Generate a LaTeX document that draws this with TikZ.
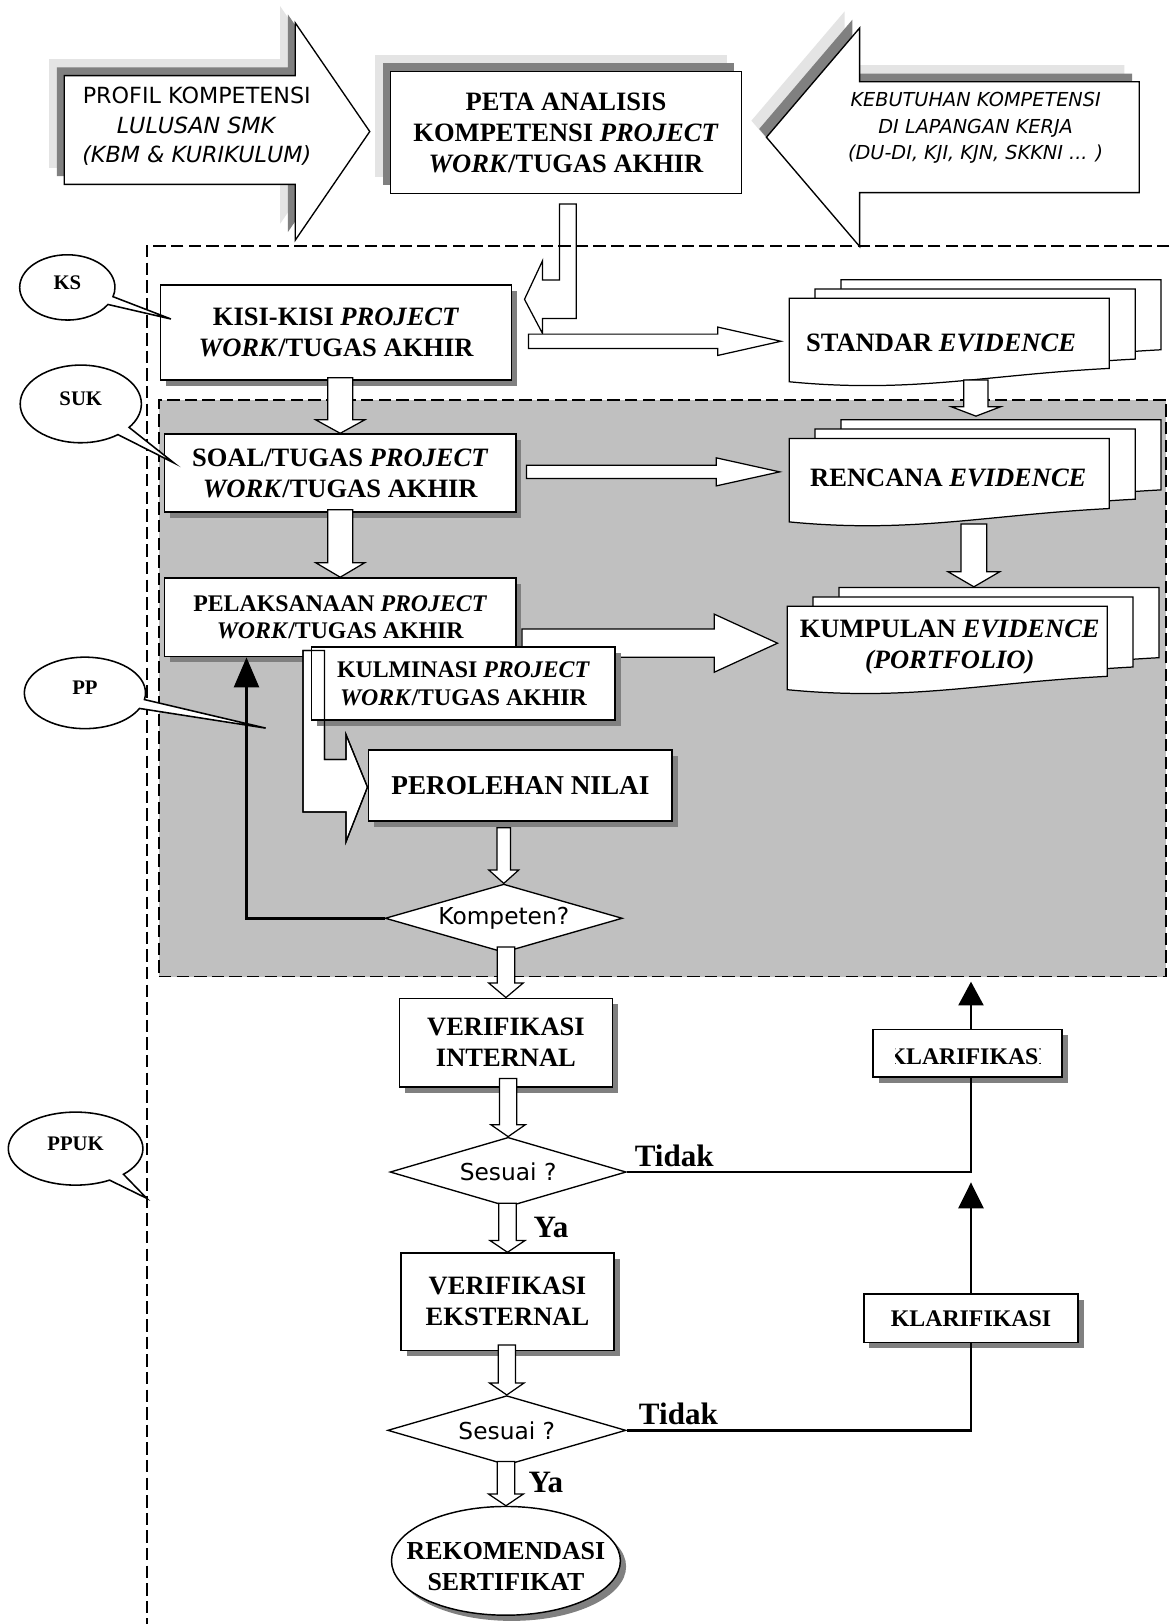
\documentclass[tikz,border=0pt]{standalone}
\usepackage{fontspec}
\setmainfont{Liberation Serif}
\newfontfamily\sansfnt{DejaVu Sans}
\usetikzlibrary{shapes.geometric,shapes.callouts,arrows.meta,shadows,calc}

\definecolor{zonegray}{RGB}{192,192,192}
\definecolor{shdark}{RGB}{128,128,128}
\definecolor{shlight}{RGB}{228,228,228}

\tikzset{
  boxshadow/.style={general shadow={fill=shdark, shadow xshift=5.5pt, shadow yshift=-5.5pt}},
  topshadow/.style={general shadow={fill=shlight, shadow xshift=-14.5pt, shadow yshift=16pt},
                    general shadow={fill=shdark, shadow xshift=-7pt, shadow yshift=8pt}},
  plainbox/.style={draw, line width=1.4pt, fill=white, inner sep=0pt, align=center},
  box/.style={plainbox, boxshadow},
  decision/.style={diamond, aspect=3.45, draw, line width=1.3pt, fill=white, inner sep=0pt,
                   font=\sansfnt\fontsize{22.5pt}{26pt}\selectfont},
  fatarrow/.style={draw, line width=1.2pt, fill=white, line join=miter},
  docpage/.style={draw, line width=1.2pt, fill=white},
  zone/.style={draw, line width=1.5pt, dash pattern=on 12pt off 5pt},
  fbline/.style={draw, line width=2.8pt},
  bubble/.style={ellipse callout, draw, line width=1.5pt, fill=white, inner sep=0pt, text depth=10pt,
                 font=\fontsize{20pt}{24pt}\selectfont\bfseries},
  bigtxt/.style={font=\fontsize{25.6pt}{30pt}\selectfont\bfseries},
  midtxt/.style={font=\fontsize{23pt}{27pt}\selectfont\bfseries},
  answer/.style={font=\fontsize{30pt}{34pt}\selectfont\bfseries},
}

% hollow block arrows: #1 start, #2 tip, #3 half shaft, #4 half head, #5 head length
\newcommand{\fatdown}[5]{%
  \draw[fatarrow] let \p1=#1, \p2=#2 in
    (\x2-#3,\y1) -- (\x2-#3,\y2+#5) -- (\x2-#4,\y2+#5) -- (\x2,\y2)
    -- (\x2+#4,\y2+#5) -- (\x2+#3,\y2+#5) -- (\x2+#3,\y1) -- cycle;}
\newcommand{\fatright}[5]{%
  \draw[fatarrow] let \p1=#1, \p2=#2 in
    (\x1,\y2+#3) -- (\x2-#5,\y2+#3) -- (\x2-#5,\y2+#4) -- (\x2,\y2)
    -- (\x2-#5,\y2-#4) -- (\x2-#5,\y2-#3) -- (\x1,\y2-#3) -- cycle;}
% one page of the evidence stack, top left corner at (#1,#2)
\newcommand{\docpage}[2]{%
  \begin{scope}[shift={(#1,#2)}]
    \draw[docpage] (0,0) -- (309,0) -- (309,67.7) .. controls (188,74) and (118,92) .. (0,80.6) -- cycle;
  \end{scope}}
\newcommand{\docstack}[2]{\docpage{#1+50}{#2-18}\docpage{#1+25}{#2-9}\docpage{#1}{#2}}
\newcommand{\bentarrow}[1]{%
  \draw[#1] (292.5,628) -- (313.3,628) -- (313.3,733.3) -- (334,733.3) -- (334,709) -- (354.8,760)
    -- (334,813) -- (334,784) -- (292.5,784) -- cycle;}

\begin{document}
\begin{tikzpicture}[x=1pt,y=-1pt]
		\useasboundingbox (0,0) rectangle (1129,1568);
		\fill[white] (0,0) rectangle (1129,1568);
		\def\lx{937.5}
		% grey zone
		\node[zone, fill=zonegray, minimum width=972.5pt, minimum height=557pt, inner sep=0pt] (zonePP) at (639.75,664.5) {};
		% top row
		\draw[fatarrow, line width=1.3pt, topshadow] (62,73) -- (285,73) -- (285,22) -- (357,127) -- (285,232) -- (285,178) -- (62,178) -- cycle;
		\node[align=center, font=\sansfnt\fontsize{21.5pt}{28.5pt}\selectfont] (profil) at (190,122) {PROFIL KOMPETENSI\\\textit{LULUSAN SMK}\\\textit{(KBM \& KURIKULUM)}};
		\node[plainbox, topshadow, bigtxt, minimum width=339pt, minimum height=118pt] (peta) at (546.5,128) {PETA ANALISIS\\KOMPETENSI \textit{PROJECT}\\\textit{WORK}/TUGAS AKHIR};
		\draw[fatarrow, line width=1.3pt, topshadow] (1100,79) -- (830,79) -- (830,27) -- (740,132.5) -- (830,238) -- (830,186) -- (1100,186) -- cycle;
		\node[align=center, font=\sansfnt\itshape\fontsize{18.6pt}{25.5pt}\selectfont] (kebutuhan) at (942,123.5) {KEBUTUHAN KOMPETENSI\\DI LAPANGAN KERJA\\(DU-DI, KJI, KJN, SKKNI ... )};
		% peta -> kisi-kisi
		\draw[fatarrow] (540.2,197) -- (556.3,197) -- (556.3,307.4) -- (523.8,307.4) -- (523.8,322) -- (506.4,289) -- (523.8,251.8) -- (523.8,270.4) -- (540.2,270.4) -- cycle;
		\draw[zone, line width=1.7pt] (1129,237.6) -| (142,1568);
		% left column
		\node[box, bigtxt, minimum width=339pt, minimum height=92pt] (kisi) at (324.5,321) {KISI-KISI \textit{PROJECT}\\\textit{WORK}/TUGAS AKHIR};
		\node[box, bigtxt, minimum width=339pt, minimum height=75.5pt] (soal) at (328.5,456.8) {SOAL/TUGAS \textit{PROJECT}\\\textit{WORK}/TUGAS AKHIR};
		% evidence stacks
		\docstack{762}{288}
		\node[bigtxt] (standar) at (908.6,331) {STANDAR \textit{EVIDENCE}};
		\docstack{762}{423.3}
		\node[bigtxt] (rencana) at (915.6,461.7) {RENCANA \textit{EVIDENCE}};
		\docstack{760}{585.3}
		\node[bigtxt, align=center] (kumpulan) at (917,625) {KUMPULAN \textit{EVIDENCE}\\\textit{(PORTFOLIO)}};
		\coordinate (stdIn) at (754,329.5);
		\coordinate (renIn) at (752.8,455.6);
		\coordinate (kumIn) at (750.7,621);
		\coordinate (kumFrom) at (504,621);
		\coordinate (stdBot) at (942.3,367);
		\coordinate (renTop) at (942.3,401.8);
		\coordinate (renBot) at (940.3,506);
		\coordinate (kumTop) at (940.3,566.6);
		\fatright{([xshift=15.6pt]kisi.east)}{(stdIn)}{6.9pt}{13.7pt}{61pt}
		\fatright{([xshift=9.6pt]soal.east)}{(renIn)}{6.35pt}{13.55pt}{61.3pt}
		\fatright{(kumFrom)}{(kumIn)}{13.65pt}{28pt}{61pt}
		\fatdown{(stdBot)}{(renTop)}{11.7pt}{23.6pt}{9pt}
		\fatdown{(renBot)}{(kumTop)}{12.4pt}{25pt}{14.6pt}
		% pelaksanaan, kulminasi, nilai
		\node[box, midtxt, minimum width=339pt, minimum height=76pt] (pelak) at (328.5,596) {PELAKSANAAN \textit{PROJECT}\\\textit{WORK}/TUGAS AKHIR};
		\fatdown{([yshift=3pt]kisi.south)}{(soal.north)}{12pt}{23.7pt}{13pt}
		\fatdown{([yshift=3pt]soal.south)}{(pelak.north)}{12pt}{23.7pt}{14pt}
		\bentarrow{fatarrow}
		\node[box, midtxt, minimum width=293pt, minimum height=70.5pt] (kulmin) at (447.5,660) {KULMINASI \textit{PROJECT}\\\textit{WORK}/TUGAS AKHIR};
		\bentarrow{line width=1.2pt}
		\node[box, font=\fontsize{26.3pt}{30pt}\selectfont\bfseries, minimum width=293pt, minimum height=68.6pt] (nilai) at (502.5,758.3) {PEROLEHAN NILAI};
		\node[decision, minimum width=229pt, minimum height=66pt] (kompeten) at (486.4,886.6) {Kompeten?};
		\fatdown{([yshift=-6pt]nilai.south)}{(kompeten.north)}{6.5pt}{14.5pt}{13pt}
		\coordinate (fbTurn) at (238,886.6);
		\draw[fbline, -{Triangle[length=29pt,width=24pt]}] (kompeten.west) -- (fbTurn) -- (fbTurn |- pelak.south);
		% verification
		\node[box, bigtxt, minimum width=206pt, minimum height=85.7pt] (verint) at (488.5,1006.7) {VERIFIKASI\\INTERNAL};
		\fatdown{([yshift=6pt]kompeten.south)}{(verint.north)}{8.5pt}{16.6pt}{14pt}
		\node[decision, minimum width=228pt, minimum height=67pt] (sesuaiA) at (490.6,1131.6) {Sesuai ?};
		\fatdown{([yshift=9pt]verint.south)}{(sesuaiA.north)}{8.3pt}{16.6pt}{11.5pt}
		\node[box, bigtxt, minimum width=206pt, minimum height=94pt] (vereks) at (490,1256.8) {VERIFIKASI\\EKSTERNAL};
		\fatdown{([yshift=4pt]sesuaiA.south)}{(vereks.north)}{8.5pt}{16.8pt}{11.3pt}
		\node[decision, minimum width=230pt, minimum height=67pt] (sesuaiB) at (489.3,1381) {Sesuai ?};
		\fatdown{([yshift=6pt]vereks.south)}{(sesuaiB.north)}{8.3pt}{16.6pt}{11.5pt}
		\node[ellipse, draw, line width=1.4pt, fill=white, boxshadow, minimum width=221pt, minimum height=105pt, inner sep=0pt] (rekom) at (488.5,1507) {};
		\node[align=center, font=\fontsize{25pt}{29pt}\selectfont\bfseries] (rekomtxt) at (488.5,1512.5) {REKOMENDASI\\SERTIFIKAT};
		\fatdown{([yshift=4pt]sesuaiB.south)}{(rekom.north)}{8.5pt}{16.8pt}{11.3pt}
		% clarification loop
		\node[box, minimum width=182.5pt, minimum height=46pt] (klarA) at (934.3,1017) {};
		\begin{scope}
			\clip (865,994) rectangle (1005,1040);
			\node[midtxt] (klarAtxt) at (934.3,1020.7) {KLARIFIKASI};
		\end{scope}
		\node[box, midtxt, minimum width=207pt, minimum height=46.5pt] (klarB) at (\lx,1272.8) {KLARIFIKASI};
		\draw[fbline] (sesuaiA.east) -- (sesuaiA.east -| klarB.north) -- (klarA.south -| klarB.north);
		\draw[fbline, shorten >=4pt, -{Triangle[length=23pt,width=24pt]}] (klarA.north -| klarB.north) -- (zonePP.south -| klarB.north);
		\draw[fbline, shorten >=10pt, -{Triangle[length=25pt,width=24pt]}] (klarB.north) -- (sesuaiA.east -| klarB.north);
		\draw[fbline] (klarB.south) -- (sesuaiB.east -| klarB.south) -- (sesuaiB.east);
		\node[answer] (tidakA) at (651,1116) {Tidak};
		\node[answer] (tidakB) at (655,1365) {Tidak};
		\node[answer] (yaA) at (532,1185) {Ya};
		\node[answer] (yaB) at (527,1431) {Ya};
		% callouts
		\node[bubble, minimum width=92pt, minimum height=63pt, callout absolute pointer={(165,308)}] (ks) at (65,277.5) {KS};
		\node[bubble, minimum width=117pt, minimum height=75pt, callout absolute pointer={(168,447)}] (suk) at (78,390) {SUK};
		\node[bubble, minimum width=117pt, minimum height=69pt, callout absolute pointer={(256.5,703)}] (pp) at (82,669) {PP};
		\node[bubble, minimum width=130pt, minimum height=70.5pt, callout absolute pointer={(141.7,1157)}] (ppuk) at (73,1109) {PPUK};
\end{tikzpicture}
\end{document}
